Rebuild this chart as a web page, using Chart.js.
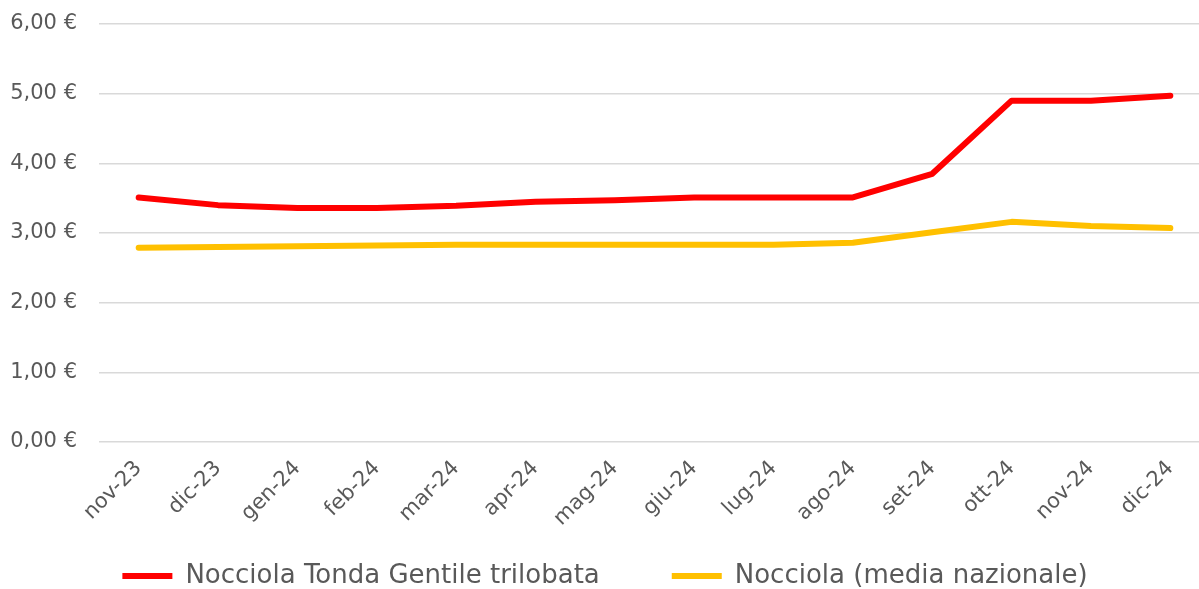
<!DOCTYPE html>
<html lang="it">
<head>
    <meta charset="UTF-8">
    <title>Prezzi nocciola</title>
    <script src="https://cdn.jsdelivr.net/npm/chart.js"></script>
    <style>
        html, body { margin: 0; padding: 0; background: #fff; overflow: hidden; }
        .wrap { width: 1210px; height: 589px; position: relative; }
    </style>
</head>
<body>
    <div class="wrap"><canvas id="priceChart"></canvas></div>

    <script>
        // Data
        const months = ['nov-23', 'dic-23', 'gen-24', 'feb-24', 'mar-24', 'apr-24', 'mag-24',
                        'giu-24', 'lug-24', 'ago-24', 'set-24', 'ott-24', 'nov-24', 'dic-24'];
        const tondaGentile = [3.51, 3.40, 3.36, 3.36, 3.39, 3.45, 3.47, 3.51, 3.51, 3.51, 3.85, 4.90, 4.90, 4.97];
        const mediaNazionale = [2.79, 2.80, 2.81, 2.82, 2.83, 2.83, 2.83, 2.83, 2.83, 2.86, 3.01, 3.16, 3.10, 3.07];
        const seriesNames = ['Nocciola Tonda Gentile trilobata', 'Nocciola (media nazionale)'];

        const textColor = '#595959';
        const fontFamily = '"DejaVu Sans", sans-serif';

        function euro(v) {
            return v.toFixed(2).replace('.', ',') + ' €';
        }

        // legend is drawn low, just under the rotated month labels
        const legendPlace = {
            id: 'legendPlace',
            beforeLayout(chart) {
                const lg = chart.legend;
                if (lg && !lg._patched) {
                    const fit = lg.fit.bind(lg);
                    lg.fit = function () {
                        fit();
                        this.height = 47;
                    };
                    lg._patched = true;
                }
            },
            afterLayout(chart) {
                const lg = chart.legend;
                lg.top = 491;
                lg.bottom = chart.height;
            }
        };

        function createChart() {
            const ctx = document.getElementById('priceChart').getContext('2d');
            new Chart(ctx, {
                type: 'line',
                data: {
                    labels: months,
                    datasets: [{
                        label: seriesNames[0],
                        data: tondaGentile,
                        borderColor: '#ff0000',
                        backgroundColor: '#ff0000',
                        borderWidth: 6,
                        borderCapStyle: 'round',
                        borderJoinStyle: 'round',
                        pointRadius: 0,
                        tension: 0
                    }, {
                        label: seriesNames[1],
                        data: mediaNazionale,
                        borderColor: '#ffc000',
                        backgroundColor: '#ffc000',
                        borderWidth: 6,
                        borderCapStyle: 'round',
                        borderJoinStyle: 'round',
                        pointRadius: 0,
                        tension: 0
                    }]
                },
                options: {
                    responsive: true,
                    maintainAspectRatio: false,
                    animation: false,
                    layout: {
                        padding: { top: 0, bottom: 0, left: 0, right: 0 }
                    },
                    scales: {
                        x: {
                            offset: true,
                            grid: { display: false, drawTicks: false },
                            border: { display: false },
                            ticks: {
                                color: textColor,
                                font: { family: fontFamily, size: 21 },
                                minRotation: 45,
                                maxRotation: 45,
                                padding: 14,
                                autoSkip: false
                            },
                            afterFit: (scale) => { scale.height = 100; }
                        },
                        y: {
                            min: 0,
                            max: 6,
                            grid: { color: '#d9d9d9', lineWidth: 1.5, drawTicks: false },
                            border: { display: false },
                            ticks: {
                                stepSize: 1,
                                color: textColor,
                                font: { family: fontFamily, size: 21 },
                                padding: 22,
                                callback: (v) => euro(v)
                            },
                            afterFit: (scale) => {
                                scale.width = 99;
                                scale.paddingTop = 24;
                                scale.paddingBottom = 0;
                            }
                        }
                    },
                    plugins: {
                        legend: {
                            position: 'bottom',
                            labels: {
                                color: textColor,
                                font: { family: fontFamily, size: 26 },
                                usePointStyle: true,
                                pointStyle: 'line',
                                pointStyleWidth: 50,
                                padding: 72
                            }
                        },
                        tooltip: { enabled: false }
                    }
                }
            });
        }

        Chart.register(legendPlace);
        window.onload = createChart;
    </script>
</body>
</html>
